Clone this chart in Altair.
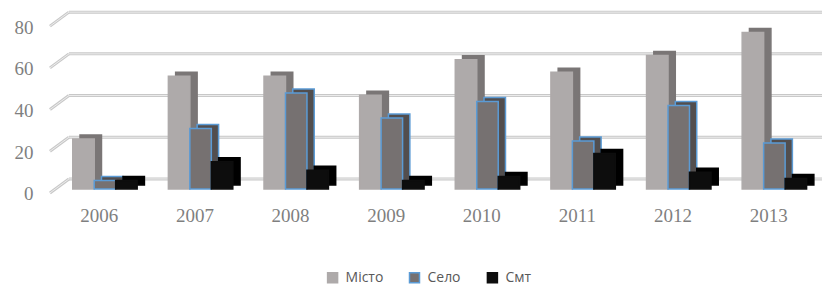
import altair as alt
import pandas as pd

# ---- data ----
years = [2006, 2007, 2008, 2009, 2010, 2011, 2012, 2013]
misto = [24, 54, 54, 45, 62, 56, 64, 75]
selo = [4, 29, 46, 34, 42, 23, 40, 22]
smt = [4, 13, 9, 4, 6, 17, 8, 5]
series_names = ["Місто", "Село", "Смт"]
y_ticks = [0, 20, 40, 60, 80]

# ---- styling / layout ----
FRONT = ["#aeaaaa", "#767171", "#0d0d0d"]
EDGE = ["#aeaaaa", "#5b9bd5", "#0d0d0d"]
SIDE = ["#7a7676", "#524e4e", "#000000"]
SIDE_EDGE = ["#7a7676", "#5b9bd5", "#000000"]
W = 0.2245      # bar width in band units
START = -0.272  # first bar start relative to the year centre
DX = 0.076      # 3D depth shift (band units)
SERIF = "Liberation Serif"
LBL = "#7f7f7f"

rows = []
for si, (name, vals) in enumerate(zip(series_names, [misto, selo, smt])):
    for yr, v in zip(years, vals):
        x0 = yr + START + si * W
        rows.append(dict(year=yr, series=name, value=v, x0=x0, x1=x0 + W,
                         dx0=x0 + DX, dx1=x0 + W + DX))
df = pd.DataFrame(rows)
grid = pd.DataFrame({"v": y_ticks})

xscale = alt.Scale(domain=[2005.5, 2013.5], nice=False, zero=False)
yscale = alt.Scale(domain=[0, 80], nice=False)

xaxis = alt.Axis(values=years, format="d", labelFont=SERIF, labelFontSize=19,
                 labelColor=LBL, domain=False, ticks=False, grid=False,
                 labelPadding=18, title=None, labelFlush=False)
yaxis = alt.Axis(values=y_ticks, labelFont=SERIF, labelFontSize=19,
                 labelColor=LBL, domain=False, ticks=False, grid=False,
                 labelPadding=18, labelOffset=5, title=None)

base_grid = alt.Chart(grid)
grid_outer = base_grid.mark_rule(color="#c8c8c8", strokeWidth=3, xOffset=18,
                                 x2Offset=8, yOffset=-10).encode(
    x=alt.X(datum=2005.5, scale=xscale, axis=xaxis),
    x2=alt.X2(datum=2013.5),
    y=alt.Y("v:Q", scale=yscale, axis=yaxis),
)
grid_inner = base_grid.mark_rule(color="#ededed", strokeWidth=1, xOffset=18,
                                 x2Offset=8, yOffset=-10).encode(
    x=alt.X(datum=2005.5), x2=alt.X2(datum=2013.5), y="v:Q")
diag_outer = base_grid.mark_rule(color="#c8c8c8", strokeWidth=3, xOffset=-1,
                                 x2Offset=18, yOffset=4, y2Offset=-10).encode(
    x=alt.X(datum=2005.5), x2=alt.X2(datum=2005.5), y="v:Q", y2="v:Q")
diag_inner = base_grid.mark_rule(color="#ededed", strokeWidth=1, xOffset=-1,
                                 x2Offset=18, yOffset=4, y2Offset=-10).encode(
    x=alt.X(datum=2005.5), x2=alt.X2(datum=2005.5), y="v:Q", y2="v:Q")

base = alt.Chart(df)
depth_layers = []
for si, name in enumerate(series_names):
    depth_layers.append(
        base.transform_filter(alt.datum.series == name)
        .mark_bar(yOffset=-4, y2Offset=-4, strokeWidth=1.5,
                  fill=SIDE[si], stroke=SIDE_EDGE[si])
        .encode(x="dx0:Q", x2="dx1", y="value:Q", y2=alt.Y2(datum=0))
    )

leg = alt.Legend(orient="none", legendX=275, legendY=249, direction="horizontal",
                 columns=3, title=None, symbolType="square", symbolSize=100,
                 symbolStrokeWidth=1.5, labelFont="Open Sans", labelFontSize=14,
                 labelColor="#595959", columnPadding=23, labelOffset=6, padding=0)

front = base.mark_bar(strokeWidth=1.5).encode(
    x="x0:Q", x2="x1", y="value:Q", y2=alt.Y2(datum=0),
    fill=alt.Fill("series:N", scale=alt.Scale(domain=series_names, range=FRONT), legend=leg),
    stroke=alt.Stroke("series:N", scale=alt.Scale(domain=series_names, range=EDGE), legend=leg),
)

chart = alt.layer(grid_outer, grid_inner, diag_outer, diag_inner, *depth_layers, front).properties(
    width=766, height=167,
    padding={"left": 43, "top": 14, "right": 6, "bottom": 99},
    autosize=alt.AutoSizeParams(type="none"),
    background="white",
).configure_view(stroke=None)

chart.save("out.html", embed_options={"renderer": "svg", "actions": False})
